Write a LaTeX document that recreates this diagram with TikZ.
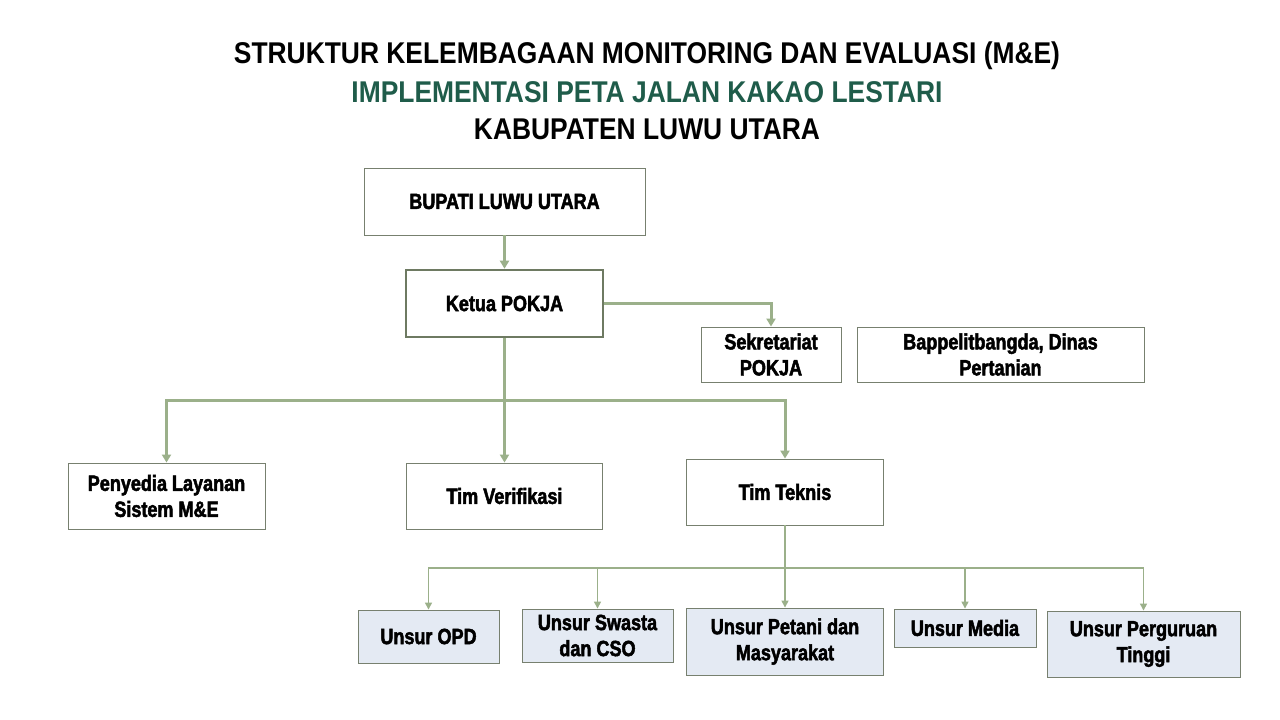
\documentclass[tikz,border=0pt]{standalone}
\usepackage{fontspec}
\usetikzlibrary{arrows.meta}
\newfontfamily\titlefont{Liberation Sans Bold}[FakeStretch=0.88]
\newfontfamily\boxfont{Liberation Sans Bold}[FakeStretch=0.82,FakeBold=2.2]
\definecolor{titlegreen}{HTML}{1F5C4A}
\definecolor{linegreen}{HTML}{9BB08A}
\definecolor{boxborder}{HTML}{77806F}
\definecolor{ketuaborder}{HTML}{6E7A62}
\definecolor{unsurfill}{HTML}{E4EAF3}
\tikzset{
  box/.style={draw=boxborder, line width=0.9pt, fill=white, align=center,
    font=\boxfont\fontsize{22}{26}\selectfont, inner sep=0pt},
  unsur/.style={box, fill=unsurfill},
  thickline/.style={draw=linegreen, line width=3pt, -{Triangle[width=9pt,length=8pt]}},
  thinline/.style={draw=linegreen, line width=1.4pt, -{Triangle[width=7pt,length=7pt]}},
  titletext/.style={font=\titlefont\fontsize{30}{34}\selectfont, anchor=base}
}
\begin{document}
\begin{tikzpicture}[x=1pt,y=-1pt]
\useasboundingbox[fill=white] (0,0) rectangle (1280,720);
% titles
\node[titletext] (t1) at (647,63) {STRUKTUR KELEMBAGAAN MONITORING DAN EVALUASI (M\&E)};
\node[titletext, text=titlegreen] (t2) at (647,102) {IMPLEMENTASI PETA JALAN KAKAO LESTARI};
\node[titletext] (t3) at (647,139) {KABUPATEN LUWU UTARA};
% boxes
\node[box, minimum width=281pt, minimum height=67pt] (bupati) at (504.5,201.5) {BUPATI LUWU UTARA};
\node[box, draw=ketuaborder, line width=2.6pt, minimum width=197pt, minimum height=67pt] (ketua) at (504.5,303.5) {Ketua POKJA};
\node[box, minimum width=140pt, minimum height=55pt] (sekre) at (771,354.5) {Sekretariat\\POKJA};
\node[box, minimum width=287pt, minimum height=55pt] (bappe) at (1000.5,354.5) {Bappelitbangda, Dinas\\Pertanian};
\node[box, minimum width=197pt, minimum height=66pt] (penyedia) at (166.5,496) {Penyedia Layanan\\Sistem M\&E};
\node[box, minimum width=196pt, minimum height=66pt] (verif) at (504.5,496) {Tim Verifikasi};
\node[box, minimum width=197pt, minimum height=66pt] (teknis) at (785,492) {Tim Teknis};
\node[unsur, minimum width=141pt, minimum height=53pt] (opd) at (428.5,636.5) {Unsur OPD};
\node[unsur, minimum width=151pt, minimum height=53pt] (swasta) at (597.5,635.5) {Unsur Swasta\\dan CSO};
\node[unsur, minimum width=197pt, minimum height=67pt] (petani) at (785,641.5) {Unsur Petani dan\\Masyarakat};
\node[unsur, minimum width=142pt, minimum height=38pt] (media) at (965,628) {Unsur Media};
\node[unsur, minimum width=193pt, minimum height=66pt] (pt) at (1143.5,644) {Unsur Perguruan\\Tinggi};
% coordinates
\coordinate (j1) at (504.5,400);
\coordinate (j2) at (785,568);
% connectors
\draw[thickline] (bupati.south) -- (ketua.north);
\draw[thickline] (ketua.east) -| (sekre.north);
\draw[draw=linegreen, line width=3pt] (ketua.south) -- (j1);
\draw[thickline] (j1) -| (penyedia.north);
\draw[thickline] (j1) -- (verif.north);
\draw[thickline] (j1) -| (teknis.north);
\draw[draw=linegreen, line width=1.4pt] (teknis.south) -- (j2);
\draw[thinline] (j2) -| (opd.north);
\draw[thinline] (j2) -| (swasta.north);
\draw[thinline] (j2) -- (petani.north);
\draw[thinline] (j2) -| (media.north);
\draw[thinline] (j2) -| (pt.north);
\end{tikzpicture}
\end{document}
